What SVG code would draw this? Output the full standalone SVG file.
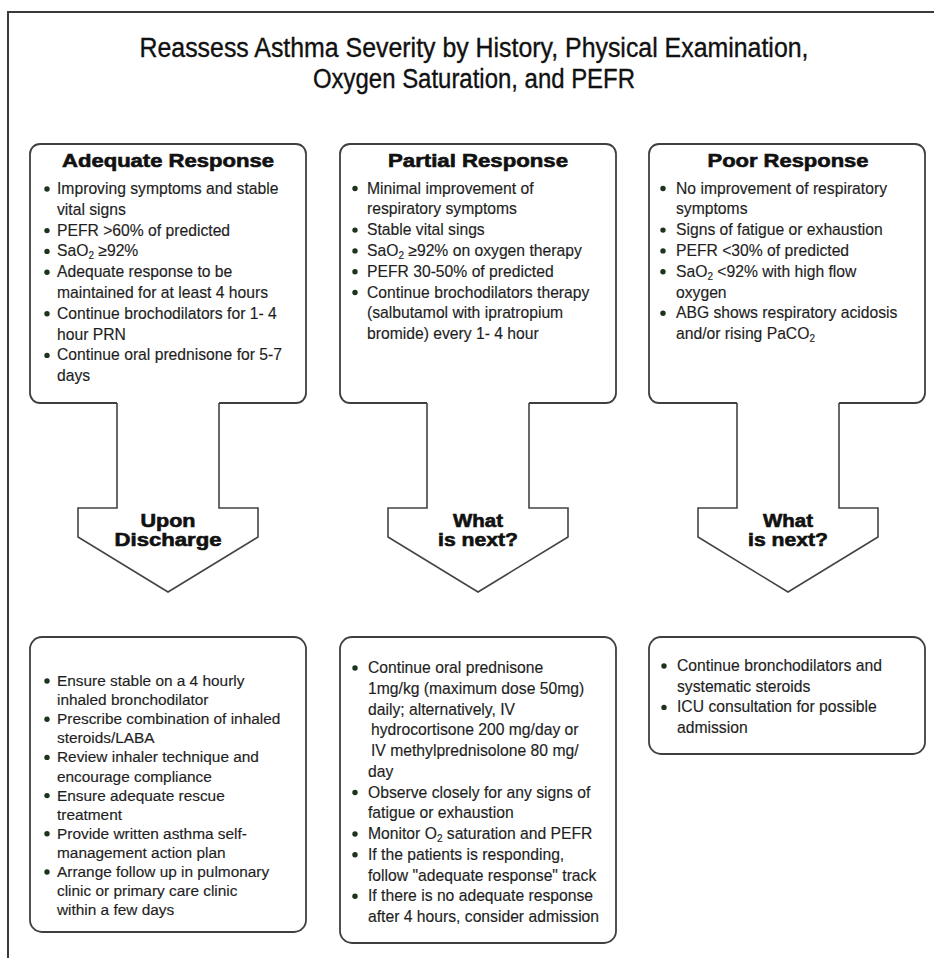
<svg xmlns="http://www.w3.org/2000/svg" width="934" height="958" viewBox="0 0 934 958">
  <style>
    .frame { fill: none; stroke: #3a3a3a; stroke-width: 2; }
    .box { fill: #ffffff; stroke: #3f3f3f; stroke-width: 1.8; stroke-linejoin: round; }
    .arrow { fill: #ffffff; stroke: #444444; stroke-width: 1.6; stroke-linejoin: miter; }
    .title { font-family: "Liberation Sans", Arial, sans-serif; font-size: 27px; fill: #111111; stroke: #111111; stroke-width: 0.35; text-anchor: middle; }
    .head { font-family: "Liberation Sans", Arial, sans-serif; font-size: 18px; font-weight: bold; fill: #111111; stroke: #111111; stroke-width: 0.6; text-anchor: middle; }
    .body { font-family: "Liberation Sans", Arial, sans-serif; font-size: 15.7px; fill: #1e1e1e; stroke: #1e1e1e; stroke-width: 0.15; }
    .body2 { font-family: "Liberation Sans", Arial, sans-serif; font-size: 15.4px; fill: #1e1e1e; stroke: #1e1e1e; stroke-width: 0.15; }
    .sub { font-size: 10px; }
    .dot { fill: #1d331d; }
  </style>

  <!-- page frame: top and left rules -->
  <path class="frame" d="M8,958 V12 H934"/>

  <!-- heading -->
  <g id="title">
    <text class="title" x="474" y="57" textLength="669" lengthAdjust="spacingAndGlyphs">Reassess Asthma Severity by History, Physical Examination,</text>
    <text class="title" x="474" y="88" textLength="322" lengthAdjust="spacingAndGlyphs">Oxygen Saturation, and PEFR</text>
  </g>

  <!-- downward block arrows leading from each assessment box -->
  <g id="connectors">
    <path class="arrow" d="M117,402 V508 H78 V537 L168,592 L258,537 V508 H219 V402"/>
    <path class="arrow" d="M427,402 V508 H388 V537 L478,592 L568,537 V508 H529 V402"/>
    <path class="arrow" d="M737,402 V508 H698 V537 L788,592 L878,537 V508 H839 V402"/>
    <text class="head" x="168" y="527" textLength="55" lengthAdjust="spacingAndGlyphs">Upon</text>
    <text class="head" x="168" y="546" textLength="107" lengthAdjust="spacingAndGlyphs">Discharge</text>
    <text class="head" x="478" y="527" textLength="50" lengthAdjust="spacingAndGlyphs">What</text>
    <text class="head" x="478" y="546" textLength="80" lengthAdjust="spacingAndGlyphs">is next?</text>
    <text class="head" x="788" y="527" textLength="50" lengthAdjust="spacingAndGlyphs">What</text>
    <text class="head" x="788" y="546" textLength="80" lengthAdjust="spacingAndGlyphs">is next?</text>
  </g>

  <!-- adequate response -->
  <g id="adequate">
    <path class="box" d="M117,403 H40 A10,10 0 0 1 30,393 V154 A10,10 0 0 1 40,144 H296 A10,10 0 0 1 306,154 V393 A10,10 0 0 1 296,403 H219"/>
    <text class="head" x="168" y="167" textLength="212" lengthAdjust="spacingAndGlyphs">Adequate Response</text>
    <g class="dot">
      <circle cx="47" cy="189" r="2.7"/>
      <circle cx="47" cy="230.6" r="2.7"/>
      <circle cx="47" cy="251.4" r="2.7"/>
      <circle cx="47" cy="272.2" r="2.7"/>
      <circle cx="47" cy="313.8" r="2.7"/>
      <circle cx="47" cy="355.4" r="2.7"/>
    </g>
    <g class="body">
      <text x="57" y="194">Improving symptoms and stable</text>
      <text x="57" y="214.8">vital signs</text>
      <text x="57" y="235.6">PEFR &gt;60% of predicted</text>
      <text x="57" y="256.4">SaO<tspan class="sub" dy="3">2</tspan><tspan dy="-3"> ≥92%</tspan></text>
      <text x="57" y="277.2">Adequate response to be</text>
      <text x="57" y="298">maintained for at least 4 hours</text>
      <text x="57" y="318.8">Continue brochodilators for 1- 4</text>
      <text x="57" y="339.6">hour PRN</text>
      <text x="57" y="360.4">Continue oral prednisone for 5-7</text>
      <text x="57" y="381.2">days</text>
    </g>
  </g>

  <!-- partial response -->
  <g id="partial">
    <path class="box" d="M427,403 H350 A10,10 0 0 1 340,393 V154 A10,10 0 0 1 350,144 H606 A10,10 0 0 1 616,154 V393 A10,10 0 0 1 606,403 H529"/>
    <text class="head" x="478" y="167" textLength="180" lengthAdjust="spacingAndGlyphs">Partial Response</text>
    <g class="dot">
      <circle cx="355" cy="188.5" r="2.7"/>
      <circle cx="355" cy="230.1" r="2.7"/>
      <circle cx="355" cy="250.9" r="2.7"/>
      <circle cx="355" cy="271.7" r="2.7"/>
      <circle cx="355" cy="292.5" r="2.7"/>
    </g>
    <g class="body">
      <text x="367" y="193.5">Minimal improvement of</text>
      <text x="367" y="214.3">respiratory symptoms</text>
      <text x="367" y="235.1">Stable vital sings</text>
      <text x="367" y="255.9">SaO<tspan class="sub" dy="3">2</tspan><tspan dy="-3"> ≥92% on oxygen therapy</tspan></text>
      <text x="367" y="276.7">PEFR 30-50% of predicted</text>
      <text x="367" y="297.5">Continue brochodilators therapy</text>
      <text x="367" y="318.3">(salbutamol with ipratropium</text>
      <text x="367" y="339.1">bromide) every 1- 4 hour</text>
    </g>
  </g>

  <!-- poor response -->
  <g id="poor">
    <path class="box" d="M737,403 H659 A10,10 0 0 1 649,393 V154 A10,10 0 0 1 659,144 H915 A10,10 0 0 1 925,154 V393 A10,10 0 0 1 915,403 H839"/>
    <text class="head" x="788" y="167" textLength="161" lengthAdjust="spacingAndGlyphs">Poor Response</text>
    <g class="dot">
      <circle cx="663" cy="188.5" r="2.7"/>
      <circle cx="663" cy="230.1" r="2.7"/>
      <circle cx="663" cy="250.9" r="2.7"/>
      <circle cx="663" cy="271.7" r="2.7"/>
      <circle cx="663" cy="313.3" r="2.7"/>
    </g>
    <g class="body">
      <text x="676" y="193.5">No improvement of respiratory</text>
      <text x="676" y="214.3">symptoms</text>
      <text x="676" y="235.1">Signs of fatigue or exhaustion</text>
      <text x="676" y="255.9">PEFR &lt;30% of predicted</text>
      <text x="676" y="276.7">SaO<tspan class="sub" dy="3">2</tspan><tspan dy="-3"> &lt;92% with high flow</tspan></text>
      <text x="676" y="297.5">oxygen</text>
      <text x="676" y="318.3">ABG shows respiratory acidosis</text>
      <text x="676" y="339.1">and/or rising PaCO<tspan class="sub" dy="3">2</tspan></text>
    </g>
  </g>

  <!-- discharge plan -->
  <g id="discharge">
    <rect class="box" x="30" y="637" width="276" height="295" rx="12" ry="12"/>
    <g class="dot">
      <circle cx="47" cy="681" r="2.7"/>
      <circle cx="47" cy="719.2" r="2.7"/>
      <circle cx="47" cy="757.4" r="2.7"/>
      <circle cx="47" cy="795.6" r="2.7"/>
      <circle cx="47" cy="833.8" r="2.7"/>
      <circle cx="47" cy="872" r="2.7"/>
    </g>
    <g class="body2">
      <text x="57" y="686">Ensure stable on a 4 hourly</text>
      <text x="57" y="705.1">inhaled bronchodilator</text>
      <text x="57" y="724.2">Prescribe combination of inhaled</text>
      <text x="57" y="743.3">steroids/LABA</text>
      <text x="57" y="762.4">Review inhaler technique and</text>
      <text x="57" y="781.5">encourage compliance</text>
      <text x="57" y="800.6">Ensure adequate rescue</text>
      <text x="57" y="819.7">treatment</text>
      <text x="57" y="838.8">Provide written asthma self-</text>
      <text x="57" y="857.9">management action plan</text>
      <text x="57" y="877">Arrange follow up in pulmonary</text>
      <text x="57" y="896.1">clinic or primary care clinic</text>
      <text x="57" y="915.2">within a few days</text>
    </g>
  </g>

  <!-- next steps after partial response -->
  <g id="partial-next">
    <rect class="box" x="340" y="637" width="276" height="306" rx="12" ry="12"/>
    <g class="dot">
      <circle cx="355" cy="668" r="2.7"/>
      <circle cx="355" cy="792.5" r="2.7"/>
      <circle cx="355" cy="834" r="2.7"/>
      <circle cx="355" cy="854.75" r="2.7"/>
      <circle cx="355" cy="896.25" r="2.7"/>
    </g>
    <g class="body">
      <text x="368" y="673">Continue oral prednisone</text>
      <text x="368" y="693.75">1mg/kg (maximum dose 50mg)</text>
      <text x="368" y="714.5">daily; alternatively, IV</text>
      <text x="371" y="735.25">hydrocortisone 200 mg/day or</text>
      <text x="371" y="756">IV methylprednisolone 80 mg/</text>
      <text x="368" y="776.75">day</text>
      <text x="368" y="797.5">Observe closely for any signs of</text>
      <text x="368" y="818.25">fatigue or exhaustion</text>
      <text x="368" y="839">Monitor O<tspan class="sub" dy="3">2</tspan><tspan dy="-3"> saturation and PEFR</tspan></text>
      <text x="368" y="859.75">If the patients is responding,</text>
      <text x="368" y="880.5">follow "adequate response" track</text>
      <text x="368" y="901.25">If there is no adequate response</text>
      <text x="368" y="922">after 4 hours, consider admission</text>
    </g>
  </g>

  <!-- next steps after poor response -->
  <g id="poor-next">
    <rect class="box" x="649" y="637" width="276" height="117" rx="12" ry="12"/>
    <g class="dot">
      <circle cx="664" cy="666" r="2.7"/>
      <circle cx="664" cy="707.4" r="2.7"/>
    </g>
    <g class="body">
      <text x="677" y="671">Continue bronchodilators and</text>
      <text x="677" y="691.7">systematic steroids</text>
      <text x="677" y="712.4">ICU consultation for possible</text>
      <text x="677" y="733.1">admission</text>
    </g>
  </g>
</svg>
